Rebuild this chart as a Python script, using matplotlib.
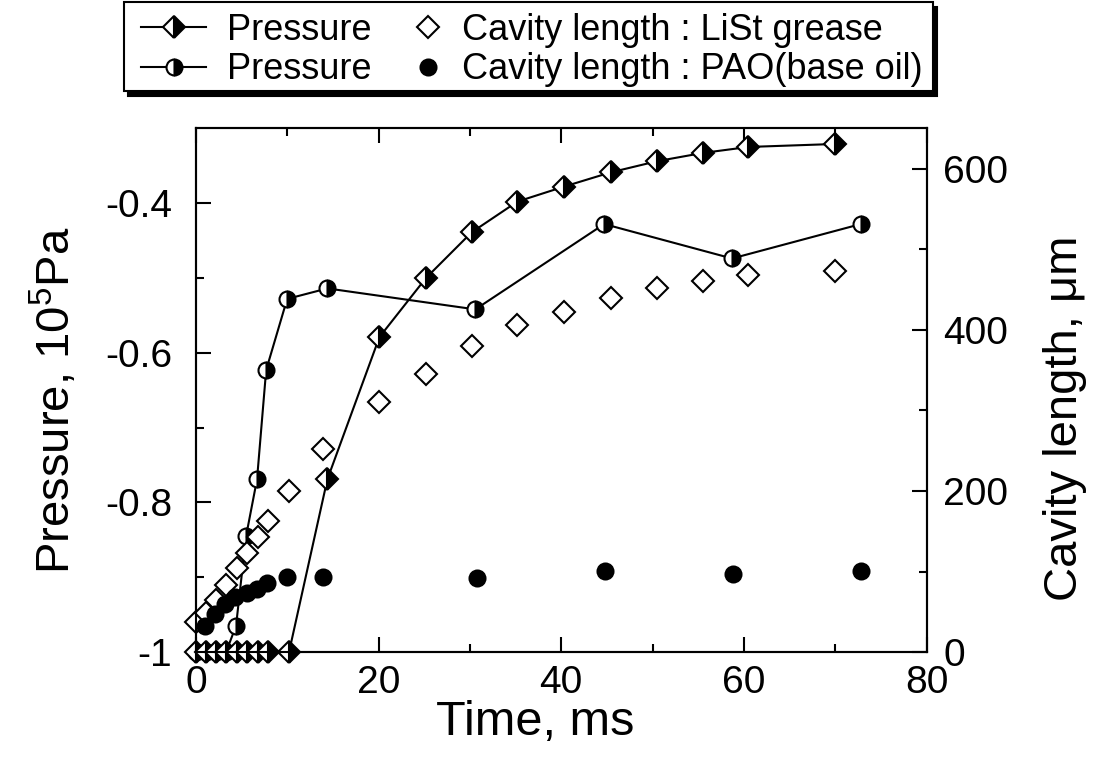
import matplotlib
matplotlib.use("Agg")
import matplotlib.pyplot as plt
import matplotlib.patches as mpatches
from matplotlib.ticker import MultipleLocator, FixedLocator, FixedFormatter

plt.rcParams["font.family"] = ["Liberation Sans", "DejaVu Sans"]
plt.rcParams["mathtext.fontset"] = "custom"
plt.rcParams["mathtext.rm"] = "Liberation Sans"
plt.rcParams["mathtext.it"] = "Liberation Sans"
plt.rcParams["mathtext.default"] = "regular"
plt.rcParams["axes.unicode_minus"] = False

# ── data ────────────────────────────────────────────────────────────────────
t_p_grease = [0, 1.1, 2.2, 3.3, 4.5, 5.6, 6.8, 7.9, 10.2, 14.4,
              20.1, 25.2, 30.2, 35.2, 40.3, 45.4, 50.5, 55.5, 60.5, 70.0]
p_grease = [-1, -1, -1, -1, -1, -1, -1, -1, -1, -0.769,
            -0.579, -0.500, -0.439, -0.398, -0.378, -0.359, -0.344, -0.333, -0.325, -0.321]

t_p_pao = [0, 1.1, 2.2, 3.3, 4.4, 5.5, 6.7, 7.7, 10.0, 14.4, 30.6, 44.7, 58.7, 72.8]
p_pao = [-1, -1, -1, -1, -0.965, -0.845, -0.769, -0.623, -0.528, -0.514,
         -0.542, -0.428, -0.474, -0.428]

t_c_grease = [0, 1.1, 2.2, 3.3, 4.5, 5.6, 6.8, 7.9, 10.2, 13.9,
              20.1, 25.2, 30.2, 35.2, 40.3, 45.4, 50.5, 55.5, 60.5, 70.0]
c_grease = [38, 48, 65, 83, 105, 123, 143, 163, 200, 252,
            310, 345, 380, 406, 422, 439, 452, 460, 468, 473]

t_c_pao = [1.0, 2.1, 3.2, 4.3, 5.6, 6.7, 7.8, 10.0, 13.9, 30.8, 44.8, 58.8, 72.8]
c_pao = [32, 47, 60, 68, 74, 79, 86, 93, 93, 92, 101, 97, 101]

x_ticks = [0, 20, 40, 60, 80]
p_ticks = [-1, -0.8, -0.6, -0.4]
p_tick_labels = ["-1", "-0.8", "-0.6", "-0.4"]
c_ticks = [0, 200, 400, 600]

TICK_FS = 28
LABEL_FS = 34
LEG_FS = 26
LW = 1.5
W, H = 1094, 782

fig = plt.figure(figsize=(W / 100, H / 100), dpi=100)
ax1 = fig.add_axes([0.179, 0.166, 0.668, 0.670])
ax2 = ax1.twinx()

h1, = ax1.plot(t_p_grease, p_grease, color="black", lw=LW, marker="D", ms=11.5,
               mew=1.5, mec="black", fillstyle="right", markerfacecolor="black",
               markerfacecoloralt="white", clip_on=False, zorder=3)
h2, = ax1.plot(t_p_pao, p_pao, color="black", lw=LW, marker="o", ms=11.5,
               mew=1.5, mec="black", fillstyle="right", markerfacecolor="black",
               markerfacecoloralt="white", clip_on=False, zorder=2)
h3, = ax2.plot(t_c_grease, c_grease, ls="none", marker="D", ms=11.5, mew=1.5,
               mec="black", mfc="white", clip_on=False)
h4, = ax2.plot(t_c_pao, c_pao, ls="none", marker="o", ms=11.5, mew=1.5,
               mec="black", mfc="black", clip_on=False)

ax1.set_xlim(0, 80)
ax1.set_ylim(-1, -0.3)
ax2.set_ylim(0, 650)

ax1.xaxis.set_major_locator(FixedLocator(x_ticks))
ax1.xaxis.set_minor_locator(MultipleLocator(10))
ax1.yaxis.set_major_locator(FixedLocator(p_ticks))
ax1.yaxis.set_major_formatter(FixedFormatter(p_tick_labels))
ax1.yaxis.set_minor_locator(FixedLocator([-0.9, -0.7, -0.5]))
ax2.yaxis.set_major_locator(FixedLocator(c_ticks))
ax2.yaxis.set_minor_locator(FixedLocator([100, 300, 500]))

ax1.tick_params(axis="x", which="both", direction="in", top=True, width=1.5,
                labelsize=TICK_FS, pad=9)
ax1.tick_params(axis="y", which="both", direction="in", right=False, width=1.5,
                labelsize=TICK_FS, pad=17)
ax2.tick_params(axis="y", which="both", direction="in", width=1.5,
                labelsize=TICK_FS, pad=12)
for a in (ax1, ax2):
    a.tick_params(which="major", length=11)
    a.tick_params(which="minor", length=6)
    for s in a.spines.values():
        s.set_linewidth(1.5)

ax1.set_xlabel("Time, ms", fontsize=LABEL_FS + 1)
ax1.set_ylabel(r"Pressure, 10$^{5}$Pa", fontsize=LABEL_FS)
ax2.set_ylabel("Cavity length, μm", fontsize=LABEL_FS)
ax1.xaxis.label.set_va("center")
ax1.xaxis.set_label_coords(0.465, -0.134)
ax1.yaxis.label.set_va("center")
ax1.yaxis.set_label_coords(-0.193, 0.481)
ax2.yaxis.label.set_va("center")
ax2.yaxis.set_label_coords(1.189, 0.447)

# legend: boxed frame with a hard black shadow, two columns laid out separately
box_x0, box_x1, box_y0, box_y1 = 124, 933, 2, 91
shadow = mpatches.Rectangle(((box_x0 + 4) / W, 1 - (box_y1 + 5) / H),
                            (box_x1 - box_x0) / W, (box_y1 - box_y0) / H,
                            transform=fig.transFigure, facecolor="black",
                            edgecolor="black", lw=1.5, zorder=1)
frame = mpatches.Rectangle((box_x0 / W, 1 - box_y1 / H),
                           (box_x1 - box_x0) / W, (box_y1 - box_y0) / H,
                           transform=fig.transFigure, facecolor="white",
                           edgecolor="black", lw=1.5, zorder=2)
fig.patches.extend([shadow, frame])

leg_kw = dict(loc="center left", fontsize=LEG_FS, numpoints=1, frameon=False,
              labelspacing=0.12, borderpad=0, borderaxespad=0)
leg1 = fig.legend([h1, h2], ["Pressure", "Pressure"],
                  bbox_to_anchor=(141 / W, 1 - 50 / H),
                  handlelength=1.8, handletextpad=0.58, **leg_kw)
leg2 = fig.legend([h3, h4], ["Cavity length : LiSt grease",
                             "Cavity length : PAO(base oil)"],
                  bbox_to_anchor=(410 / W, 1 - 50 / H),
                  handlelength=1.0, handletextpad=0.44, **leg_kw)
leg1.set_zorder(5)
leg2.set_zorder(5)

fig.savefig("out.png", dpi=100)
